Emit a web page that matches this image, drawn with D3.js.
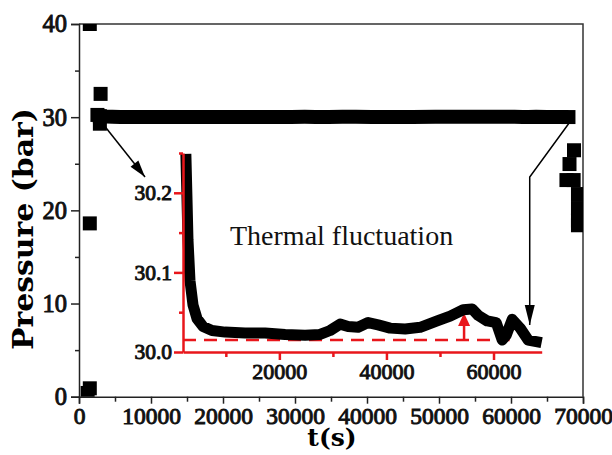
<!DOCTYPE html>
<html><head><meta charset="utf-8">
<script src="https://cdn.jsdelivr.net/npm/d3@7"></script>
<style>body{margin:0;background:#fff}svg{display:block}</style>
</head><body><svg id="c" width="612" height="455"></svg>
<script>
// ---------- data ----------
const xMajorTicks = [0,10000,20000,30000,40000,50000,60000,70000];
const xMinorTicks = [5000,15000,25000,35000,45000,55000,65000];
const yMajorTicks = [0,10,20,30,40];
const yMinorTicks = [5,15,25,35];

// start-up transient points (t, P)
const startT = [1500, 1500, 1500, 1200, 2900, 2900, 3000];
const startP = [40, 18.6, 0.9, 0.4, 29.3, 30.1, 32.5];

// release (end) points
const endT = [68750, 68125, 67700, 68700, 69300, 69300, 69300, 69300];
const endP = [26.45, 24.97, 23.25, 23.25, 21.75, 20.25, 18.9, 18.4];

// holding period pressure (also shown zoomed in the inset)
const fluctT = [2560,2750,2930,3300,3870,4620,5740,7420,9850,13590,17330,21070,24800,27600,29480,31350,32840,34710,36580,38450,40690,43500,46300,49480,51900,54340,56020,57140,58820,60500,61620,62370,63490,64980,66480,67980];
const fluctP = [30.242,30.191,30.141,30.090,30.059,30.042,30.032,30.027,30.025,30.024,30.024,30.022,30.021,30.022,30.027,30.035,30.032,30.031,30.037,30.034,30.030,30.029,30.031,30.039,30.045,30.053,30.054,30.046,30.039,30.037,30.015,30.021,30.041,30.030,30.015,30.013];

const insetXTicks = [20000,40000,60000];
const insetXMinor = [10000,30000,50000];
const insetYTicks = [30.0,30.1,30.2];
const insetYMinor = [30.05,30.15,30.25];
const baseline = 30.015;      // dashed reference level
const peakT = 54500, peakP = 30.049;
const labelText = "Thermal fluctuation";

// ---------- drawing ----------
const svg = d3.select("#c");
const RED = "#e8161b";
const bfont = "DejaVu Serif";
const rfont = "Liberation Serif";

const x = d3.scaleLinear().domain([0,70000]).range([79,583]);
const y = d3.scaleLinear().domain([0,40]).range([396.7,24]);

svg.append("defs").append("clipPath").attr("id","plot").append("rect")
  .attr("x",79).attr("y",24).attr("width",504).attr("height",372.7);

// frame
svg.append("path").attr("d",`M${x(0)},${y(40)}H${x(70000)}V${y(0)}`)
  .attr("fill","none").attr("stroke","#333").attr("stroke-width",1.5);

function boldSerif(sel, size){
  sel.style("font-family",rfont).style("font-weight","normal").style("font-size",size+"px")
    .attr("fill","#111").attr("stroke","#111").attr("stroke-width",0.95).attr("paint-order","stroke");
}
function styleAxis(g, color, w){
  g.attr("font-family",rfont);
  g.select(".domain").attr("stroke",color).attr("stroke-width",w);
  g.selectAll(".tick line").attr("stroke",color).attr("stroke-width",w);
}
const gx = svg.append("g").attr("transform",`translate(0,${y(0)})`)
  .call(d3.axisBottom(x).tickValues(xMajorTicks).tickSize(7).tickPadding(4).tickFormat(d3.format("d")));
styleAxis(gx,"#222",1.5); boldSerif(gx.selectAll("text"),23.5);
const gxm = svg.append("g").attr("transform",`translate(0,${y(0)})`)
  .call(d3.axisBottom(x).tickValues(xMinorTicks).tickSize(5).tickFormat(""));
styleAxis(gxm,"#222",1.5); gxm.select(".domain").remove();

const gy = svg.append("g").attr("transform",`translate(${x(0)},0)`)
  .call(d3.axisLeft(y).tickValues(yMajorTicks).tickSize(8).tickPadding(4));
styleAxis(gy,"#222",1.5); boldSerif(gy.selectAll("text"),24.5);
const gym = svg.append("g").attr("transform",`translate(${x(0)},0)`)
  .call(d3.axisLeft(y).tickValues(yMinorTicks).tickSize(4).tickFormat(""));
styleAxis(gym,"#222",1.5); gym.select(".domain").remove();

// axis titles
svg.append("text").attr("x",332).attr("y",446).attr("text-anchor","middle")
  .style("font-family",bfont).style("font-weight","bold").style("font-size","25px").text("t(s)");
svg.append("text").attr("transform","translate(33,229) rotate(-90)").attr("text-anchor","middle")
  .style("font-family",bfont).style("font-weight","bold").style("font-size","27px")
  .attr("textLength",242).attr("lengthAdjust","spacingAndGlyphs").text("Pressure (bar)");

// main data
const plot = svg.append("g").attr("clip-path","url(#plot)");
const SQ = 14;
const fluct = fluctT.map((t,i)=>[t,fluctP[i]]);
plot.append("path").datum(fluct)
  .attr("d",d3.line().x(d=>x(d[0])).y(d=>y(d[1])))
  .attr("fill","none").attr("stroke","#000").attr("stroke-width",SQ);
const sq = startT.map((t,i)=>[t,startP[i]]).concat(endT.map((t,i)=>[t,endP[i]]))
  .concat([fluct[0], fluct[fluct.length-1]]);
plot.selectAll("rect.sq").data(sq).join("rect").attr("class","sq")
  .attr("x",d=>x(d[0])-SQ/2).attr("y",d=>y(d[1])-SQ/2)
  .attr("width",SQ).attr("height",SQ).attr("fill","#000");

// arrows
function arrowHead(g, x1,y1,x2,y2,len,hw,color){
  const dx=x2-x1, dy=y2-y1, L=Math.hypot(dx,dy), ux=dx/L, uy=dy/L;
  const bx=x2-ux*len, by=y2-uy*len;
  g.append("path").attr("d",`M${x2},${y2}L${bx-uy*hw},${by+ux*hw}L${bx+uy*hw},${by-ux*hw}Z`).attr("fill",color);
}
const a1 = [[3330,29.27],[9170,23.58]];
svg.append("line").attr("x1",x(a1[0][0])).attr("y1",y(a1[0][1])).attr("x2",x(a1[1][0])).attr("y2",y(a1[1][1]))
  .attr("stroke","#000").attr("stroke-width",1.5);
arrowHead(svg,x(a1[0][0]),y(a1[0][1]),x(a1[1][0]),y(a1[1][1]),17,5,"#000");
const a2 = [[68000,29.3],[62600,23.58],[62600,7.69]];
svg.append("path").attr("d",d3.line().x(d=>x(d[0])).y(d=>y(d[1]))(a2))
  .attr("fill","none").attr("stroke","#000").attr("stroke-width",1.5);
arrowHead(svg,x(a2[1][0]),y(a2[1][1]),x(a2[2][0]),y(a2[2][1]),20,5,"#000");

// ---------- inset ----------
const ix = d3.scaleLinear().domain([2000,69000]).range([183,541.7]);
const iy = d3.scaleLinear().domain([30.0,30.25]).range([352,153]);
const inset = svg.append("g");

inset.append("line").attr("x1",ix(2000)).attr("x2",ix(63000)).attr("y1",iy(baseline)).attr("y2",iy(baseline))
  .attr("stroke",RED).attr("stroke-width",2.5).attr("stroke-dasharray","13,8");
inset.append("line").attr("x1",ix(peakT)).attr("x2",ix(peakT)).attr("y1",iy(baseline)).attr("y2",iy(peakP)+8)
  .attr("stroke",RED).attr("stroke-width",2.5);
arrowHead(inset,ix(peakT),iy(baseline),ix(peakT),iy(peakP),13,6,RED);

inset.append("path").datum(fluct)
  .attr("d",d3.line().x(d=>ix(d[0])).y(d=>iy(d[1])))
  .attr("fill","none").attr("stroke","#000").attr("stroke-width",11)
  .attr("stroke-linejoin","round").attr("stroke-linecap","square");

const igx = inset.append("g").attr("transform",`translate(0,${iy(30)})`)
  .call(d3.axisBottom(ix).tickValues(insetXTicks).tickSize(8).tickPadding(3).tickFormat(d3.format("d")).tickSizeOuter(0));
styleAxis(igx,RED,2.5); boldSerif(igx.selectAll("text"),22);
const igxm = inset.append("g").attr("transform",`translate(0,${iy(30)})`)
  .call(d3.axisBottom(ix).tickValues(insetXMinor).tickSize(5).tickFormat(""));
styleAxis(igxm,RED,2.5); igxm.select(".domain").remove();
const igy = inset.append("g").attr("transform",`translate(${ix(2000)},0)`)
  .call(d3.axisLeft(iy).tickValues(insetYTicks).tickSize(9).tickPadding(2).tickFormat(d3.format(".1f")).tickSizeOuter(0));
styleAxis(igy,RED,2.5); boldSerif(igy.selectAll("text"),21.5);
const igym = inset.append("g").attr("transform",`translate(${ix(2000)},0)`)
  .call(d3.axisLeft(iy).tickValues(insetYMinor).tickSize(4).tickFormat(""));
styleAxis(igym,RED,2.5); igym.select(".domain").remove();

inset.append("text").attr("x",ix(10780)).attr("y",iy(30.135))
  .style("font-family",rfont).style("font-size","28px").attr("fill","#111").text(labelText);
</script></body></html>
